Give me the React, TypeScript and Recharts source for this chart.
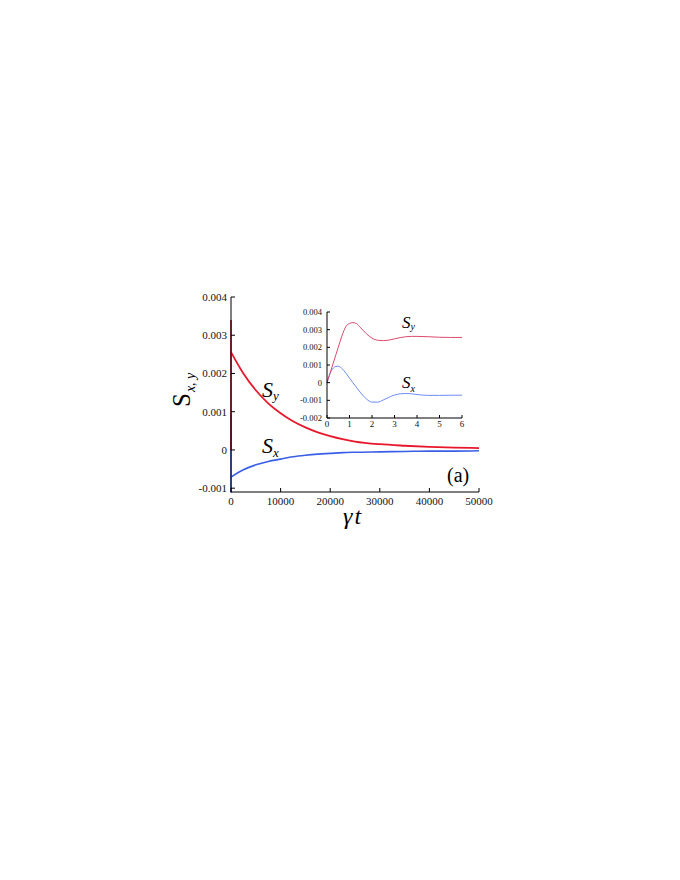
import React from 'react'
import {LineChart, Line, XAxis, YAxis} from 'recharts'

// main panel: long-time relaxation (gamma t up to 5e4)
const mainT = [0, 2500, 5000, 7500, 10000, 12500, 15000, 17500, 20000, 22500, 25000, 30000, 35000, 40000, 45000, 50000]
const mainSy = [0.00256, 0.002, 0.00156, 0.00122, 0.00096, 0.00075, 0.00059, 0.00046, 0.00036, 0.00028, 0.00022, 0.00015, 0.00011, 0.00008, 0.00006, 0.00005]
const mainSx = [-0.00071, -0.00052, -0.00039, -0.0003, -0.00024, -0.00018, -0.00014, -0.00011, -0.00009, -0.00007, -0.00006, -0.00005, -0.00004, -0.00003, -0.00003, -0.00002]

// inset: short-time oscillation (gamma t up to 6); also the vertical jump at t=0 in the main panel
const insetT = [0, 0.1, 0.25, 0.4, 0.5, 0.65, 0.85, 1.0, 1.15, 1.3, 1.5, 1.75, 2.0, 2.25, 2.5, 2.75, 3.0, 3.25, 3.5, 3.75, 4.0, 4.5, 5.0, 5.5, 6.0]
const insetSy = [0, 0.0004, 0.001, 0.0016, 0.002, 0.0026, 0.0032, 0.00335, 0.0034, 0.00335, 0.0031, 0.00277, 0.00252, 0.0024, 0.00238, 0.00241, 0.00248, 0.00255, 0.0026, 0.00262, 0.00262, 0.0026, 0.00257, 0.00256, 0.00256]
const insetSx = [0, 0.0004, 0.00078, 0.00092, 0.00093, 0.00082, 0.00052, 0.00026, 0, -0.00025, -0.00058, -0.00092, -0.0011, -0.0011, -0.00098, -0.00083, -0.0007, -0.00063, -0.00061, -0.00063, -0.00067, -0.00072, -0.00072, -0.00071, -0.00071]

const mainXTicks = [0, 10000, 20000, 30000, 40000, 50000]
const mainYTicks = [-0.001, 0, 0.001, 0.002, 0.003, 0.004]
const insetXTicks = [0, 1, 2, 3, 4, 5, 6]
const insetYTicks = [-0.002, -0.001, 0, 0.001, 0.002, 0.003, 0.004]

const mainData = mainT.map((t, i) => ({t, sy: mainSy[i], sx: mainSx[i]}))
const insetData = insetT.map((t, i) => ({t, sy: insetSy[i], sx: insetSx[i]}))

const serif = '"Liberation Serif", "DejaVu Serif", "Noto Serif", "Times New Roman", Times, serif'
const fmtY = (v: number) => (v === 0 ? '0' : v.toFixed(3))
const noLabel = () => <g />

const App = () => {
  return (
    <div style={{position: 'absolute', left: 0, top: 0, width: 680, height: 880, background: '#fff', fontFamily: serif}}>
      {/* main chart */}
      <div style={{position: 'absolute', left: 0, top: 0}}>
        <LineChart width={680} height={880} data={mainData} margin={{top: 297, right: 201, bottom: 358, left: 171}}>
          <XAxis
            xAxisId="b"
            dataKey="t"
            type="number"
            domain={[0, 50000]}
            ticks={mainXTicks}
            height={30}
            tickSize={-4}
            tickMargin={9}
            stroke="#000"
            tick={{fontSize: 11, fill: '#111', fontFamily: serif}}
          />
          <XAxis xAxisId="top" orientation="top" dataKey="t" type="number" domain={[0, 50000]} ticks={mainXTicks} height={0} tickSize={-4} stroke="#000" tick={noLabel} />
          <YAxis
            yAxisId="l"
            type="number"
            domain={[-0.001, 0.004]}
            ticks={mainYTicks}
            width={60}
            tickSize={-4}
            tickMargin={8}
            tickFormatter={fmtY}
            stroke="#000"
            tick={{fontSize: 11, fill: '#111', fontFamily: serif}}
          />
          <YAxis yAxisId="r" orientation="right" type="number" domain={[-0.001, 0.004]} ticks={mainYTicks} width={0} tickSize={-4} stroke="#000" tick={noLabel} />
          {/* transient at t≈0 collapses to a vertical stroke on this scale */}
          <Line xAxisId="b" yAxisId="l" data={insetData} dataKey="sx" type="monotone" stroke="#3a5fe6" strokeWidth={1.6} dot={false} isAnimationActive={false} />
          <Line xAxisId="b" yAxisId="l" data={insetData} dataKey="sy" type="monotone" stroke="#c0182c" strokeWidth={1.6} dot={false} isAnimationActive={false} />
          <Line xAxisId="b" yAxisId="l" dataKey="sx" type="monotone" stroke="#3a5fe6" strokeWidth={1.6} dot={false} isAnimationActive={false} />
          <Line xAxisId="b" yAxisId="l" dataKey="sy" type="monotone" stroke="#e8182c" strokeWidth={1.8} dot={false} isAnimationActive={false} />
        </LineChart>
      </div>

      {/* inset */}
      <div style={{position: 'absolute', left: 0, top: 0}}>
        <LineChart width={680} height={880} data={insetData} margin={{top: 312, right: 218, bottom: 442, left: 287}}>
          <XAxis
            xAxisId="b"
            dataKey="t"
            type="number"
            domain={[0, 6]}
            ticks={insetXTicks}
            height={20}
            tickSize={-3}
            tickMargin={6}
            stroke="#000"
            tick={{fontSize: 9, fill: '#111', fontFamily: serif}}
          />
          <XAxis xAxisId="top" orientation="top" dataKey="t" type="number" domain={[0, 6]} ticks={insetXTicks} height={0} tickSize={-3} stroke="#000" tick={noLabel} />
          <YAxis
            yAxisId="l"
            type="number"
            domain={[-0.002, 0.004]}
            ticks={insetYTicks}
            width={40}
            tickSize={-3}
            tickMargin={8}
            tickFormatter={fmtY}
            stroke="#000"
            tick={{fontSize: 8.5, fill: '#111', fontFamily: serif}}
          />
          <YAxis yAxisId="r" orientation="right" type="number" domain={[-0.002, 0.004]} ticks={insetYTicks} width={0} tickSize={-3} stroke="#000" tick={noLabel} />
          <Line xAxisId="b" yAxisId="l" dataKey="sx" type="monotone" stroke="#6d8cf2" strokeWidth={1} dot={false} isAnimationActive={false} />
          <Line xAxisId="b" yAxisId="l" dataKey="sy" type="monotone" stroke="#dc4a6c" strokeWidth={1} dot={false} isAnimationActive={false} />
        </LineChart>
      </div>

      {/* labels */}
      <svg width={680} height={880} style={{position: 'absolute', left: 0, top: 0, pointerEvents: 'none'}} fontFamily={serif}>
        <text x={190} y={407} transform="rotate(-90 190 407)" fontSize={25} fill="#000">
          S
          <tspan fontSize={14} fontStyle="italic" dy={5} dx={1}>x, y</tspan>
        </text>
        <text x={343} y={524} fontSize={24} fontStyle="italic" fill="#000">
          γ
          <tspan dx={2}>t</tspan>
        </text>
        <text x={262} y={397} fontSize={22} fontStyle="italic" fill="#000">
          S<tspan fontSize={13} dy={3}>y</tspan>
        </text>
        <text x={262} y={453} fontSize={22} fontStyle="italic" fill="#000">
          S<tspan fontSize={13} dy={4}>x</tspan>
        </text>
        <text x={402} y={328} fontSize={17} fontStyle="italic" fill="#000">
          S<tspan fontSize={10} dy={2}>y</tspan>
        </text>
        <text x={402} y={388} fontSize={17} fontStyle="italic" fill="#000">
          S<tspan fontSize={10} dy={4}>x</tspan>
        </text>
        <text x={447} y={482} fontSize={20} fill="#000">(a)</text>
      </svg>
    </div>
  )
}

export default App
